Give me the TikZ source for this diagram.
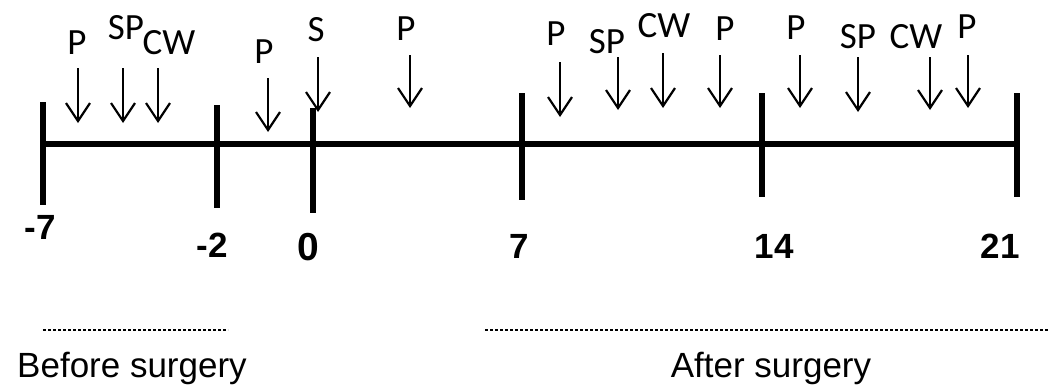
\documentclass[tikz,border=0pt]{standalone}
\usepackage{fontspec}
\setmainfont{Liberation Sans}
\newfontfamily\calib{Carlito}
\usetikzlibrary{arrows.meta}
\tikzset{
  axisline/.style={line width=6pt},
  tickmark/.style={line width=6.5pt},
  evlabel/.style={inner sep=0pt, font=\calib\fontsize{37}{37}\selectfont},
  evarrow/.style={line width=2pt, -{Straight Barb[length=18pt,width=24pt,line width=2.2pt]}},
  daylabel/.style={inner sep=0pt, font=\fontsize{35}{35}\selectfont\bfseries},
  spanline/.style={line width=1.2pt, dash pattern=on 3pt off 2pt},
  spanlabel/.style={inner sep=0pt, anchor=base, font=\fontsize{35}{35}\selectfont}
}
\begin{document}
\begin{tikzpicture}[x=1pt,y=-1pt]
\useasboundingbox (0,0) rectangle (1054,388);
% ticks on the time axis: name / x / top / bottom
\foreach \n/\x/\t/\b in {m7/43/102/205, m2/217/105/208, d0/313/108/213,
                          d7/522/93/200, d14/762/93/197, d21/1017/93/197}{
  \coordinate (\n top) at (\x,\t);
  \coordinate (\n bot) at (\x,\b);
  \draw[tickmark] (\n top) -- (\n bot);
}
\coordinate (axisL) at (40,144);
\coordinate (axisR) at (1020,144);
\draw[axisline] (axisL) -- (axisR);
% day numbers
\node[daylabel] (nm7) at (40,227) {-7};
\node[daylabel] (nm2) at (212,245) {-2};
\node[daylabel, font=\fontsize{39}{39}\selectfont\bfseries] (nd0) at (308,247) {0};
\node[daylabel] (nd7) at (519,246) {7};
\node[daylabel] (nd14) at (774,246) {14};
\node[daylabel] (nd21) at (1000,246) {21};
% events: id / label x / label y / text / arrow x / arrow top / arrow tip
\foreach \i/\lx/\ly/\txt/\ax/\at/\ab in {
  1/77/43/P/78/68/123,
  2/126/28/SP/123/68/123,
  3/169/43/CW/158/68/123,
  4/264/52/P/268/78/132,
  5/316/30/S/318/57/112,
  6/406/29/P/410/55/108,
  7/556/34/P/560/62/117,
  8/607/42/SP/618/57/110,
  9/664/26/CW/663/53/108,
  10/725/29/P/720/55/108,
  11/796/28/P/800/55/108,
  12/858/37/SP/858/57/112,
  13/916/37/CW/930/57/110,
  14/967/27/P/968/55/108}{
  \node[evlabel] (ev\i) at (\lx,\ly) {\txt};
  \coordinate (ea\i) at (\ax,\at);
  \coordinate (eb\i) at (\ax,\ab);
  \draw[evarrow] (ea\i) -- (eb\i);
}
% periods
\coordinate (bs1) at (43,330);
\coordinate (bs2) at (228,330);
\draw[spanline] (bs1) -- (bs2);
\node[spanlabel] (before) at (132,377) {Before surgery};
\coordinate (as1) at (485,330);
\coordinate (as2) at (1049,330);
\draw[spanline] (as1) -- (as2);
\node[spanlabel] (after) at (771,377) {After surgery};
\end{tikzpicture}
\end{document}
